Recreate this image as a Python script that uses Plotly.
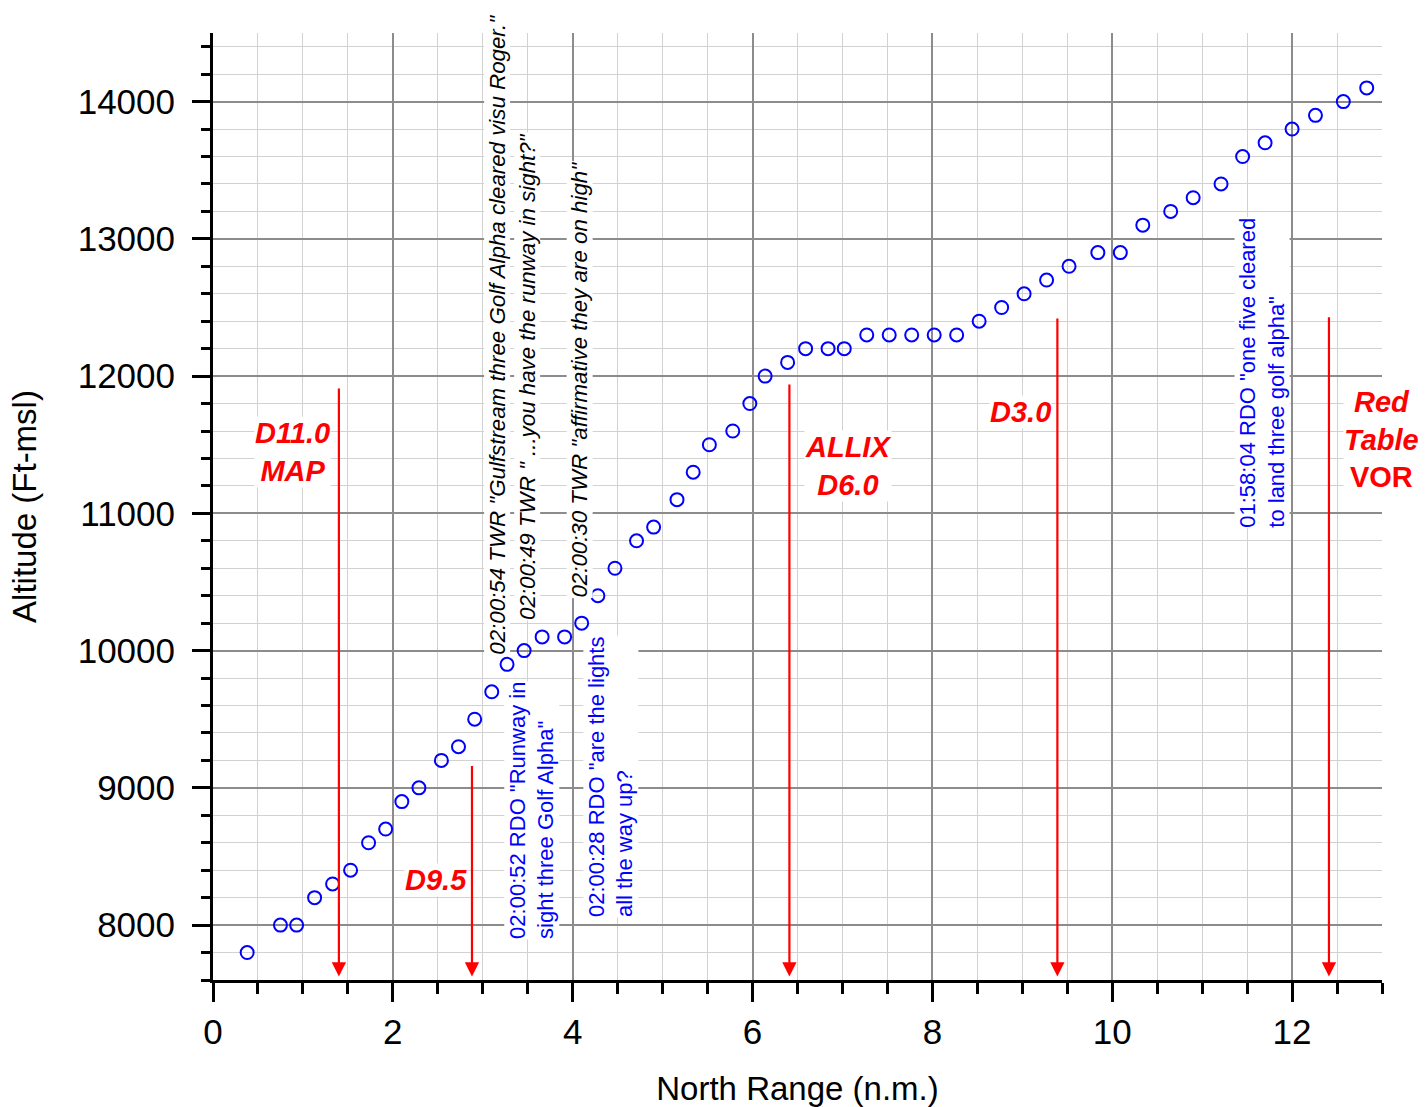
import plotly.graph_objects as go

# ---- data ----
north_range = [0.38, 0.75, 0.93, 1.13, 1.33, 1.53, 1.73, 1.92, 2.10, 2.29,
               2.54, 2.73, 2.91, 3.10, 3.27, 3.46, 3.66, 3.91, 4.10, 4.28,
               4.47, 4.71, 4.90, 5.16, 5.34, 5.52, 5.78, 5.97, 6.14, 6.39,
               6.59, 6.84, 7.02, 7.27, 7.52, 7.77, 8.02, 8.27, 8.52, 8.77,
               9.02, 9.27, 9.52, 9.84, 10.09, 10.34, 10.65, 10.90, 11.21, 11.45,
               11.70, 12.00, 12.26, 12.57, 12.83]
altitude = [7800, 8000, 8000, 8200, 8300, 8400, 8600, 8700, 8900, 9000,
            9200, 9300, 9500, 9700, 9900, 10000, 10100, 10100, 10200, 10400,
            10600, 10800, 10900, 11100, 11300, 11500, 11600, 11800, 12000, 12100,
            12200, 12200, 12200, 12300, 12300, 12300, 12300, 12300, 12400, 12500,
            12600, 12700, 12800, 12900, 12900, 13100, 13200, 13300, 13400, 13600,
            13700, 13800, 13900, 14000, 14100]

# fix arrows (x, top altitude); tips end just above the axis
arrow_x = [1.40, 2.88, 6.41, 9.39, 12.41]
arrow_top = [11920, 9170, 11950, 12430, 12440]
arrow_tip = 7625

# red fix labels
fix_text = ["<i>D11.0</i><br><i>MAP</i>", "<i>D9.5</i>", "<i>ALLIX</i><br><i>D6.0</i>",
            "<i>D3.0</i>", "<i>Red</i><br><i>Table</i><br>VOR"]
fix_x = [0.88, 2.48, 7.06, 8.98, 12.99]
fix_y = [11447, 8328, 11342, 11738, 11539]

# black TWR transmissions (rotated, bottom anchored)
twr_text = ['02:00:54 TWR "Gulfstream three Golf Alpha cleared visu Roger."',
            '02:00:49 TWR " ...you have the runway in sight?"',
            '02:00:30 TWR "affirmative they are on high"']
twr_x = [3.16, 3.49, 4.08]
twr_y = [9964, 10218, 10378]

# blue RDO transmissions (rotated, bottom anchored)
rdo_text = ['02:00:52 RDO "Runway in<br>sight three Golf Alpha"',
            '02:00:28 RDO "are the lights<br>all the way up?',
            '01:58:04 RDO "one five cleared<br>to land three golf alpha"']
rdo_x = [3.54, 4.42, 11.67]
rdo_y = [7891, 8051, 10891]

x_ticks = [0, 2, 4, 6, 8, 10, 12]
y_ticks = [8000, 9000, 10000, 11000, 12000, 13000, 14000]

FONT = "Arial, Liberation Sans, sans-serif"

fig = go.Figure()
fig.add_trace(go.Scatter(
    x=north_range, y=altitude, mode="markers",
    marker=dict(symbol="circle-open", size=13, color="#0000ff",
                line=dict(width=2, color="#0000ff")),
    showlegend=False, cliponaxis=False))

annotations = []
for xa, yt in zip(arrow_x, arrow_top):
    annotations.append(dict(
        x=xa, y=arrow_tip, ax=xa, ay=yt, xref="x", yref="y", axref="x", ayref="y",
        text="", showarrow=True, arrowhead=2, arrowsize=1.3, arrowwidth=2.2,
        arrowcolor="#ff0000", standoff=0, startstandoff=0))

for t, xa, ya in zip(fix_text, fix_x, fix_y):
    annotations.append(dict(
        x=xa, y=ya, xref="x", yref="y", text=t, showarrow=False,
        font=dict(family=FONT, size=29, color="#ff0000", weight="bold"),
        bgcolor="white", align="center", xanchor="center", yanchor="middle",
        borderpad=0))

for t, xa, ya in zip(twr_text, twr_x, twr_y):
    annotations.append(dict(
        x=xa, y=ya, xref="x", yref="y", text="<i>" + t + "</i>", showarrow=False,
        textangle=-90, font=dict(family=FONT, size=22.3, color="black"),
        bgcolor="white", align="left", xanchor="center", yanchor="bottom",
        borderpad=0))

for t, xa, ya in zip(rdo_text, rdo_x, rdo_y):
    annotations.append(dict(
        x=xa, y=ya, xref="x", yref="y", text=t, showarrow=False,
        textangle=-90, font=dict(family=FONT, size=22, color="#0000ff"),
        bgcolor="white", align="left", xanchor="center", yanchor="bottom",
        borderpad=0))

fig.update_layout(
    width=1426, height=1107,
    margin=dict(l=213, r=44, t=33, b=127),
    paper_bgcolor="white", plot_bgcolor="white",
    font=dict(family=FONT, color="black"),
    annotations=annotations,
    xaxis=dict(
        range=[0, 13], tickvals=x_ticks, ticktext=[str(v) for v in x_ticks],
        automargin=False,
        showline=True, linecolor="black", linewidth=3,
        ticks="outside", ticklen=19, tickwidth=3, tickcolor="black",
        tickfont=dict(size=35), ticklabelstandoff=0,
        showgrid=True, gridcolor="#8c8c8c", gridwidth=1.5,
        minor=dict(dtick=0.5, tick0=0, ticks="outside", ticklen=11, tickwidth=3,
                   tickcolor="black", showgrid=True, gridcolor="#d2d2d2", gridwidth=1.2),
        title=dict(text="North Range (n.m.)", font=dict(size=33), standoff=30),
        zeroline=False),
    yaxis=dict(
        range=[7600, 14500], tickvals=y_ticks, ticktext=[str(v) for v in y_ticks],
        automargin=False,
        showline=True, linecolor="black", linewidth=3,
        ticks="outside", ticklen=18, tickwidth=3, tickcolor="black",
        tickfont=dict(size=35), ticklabelstandoff=10,
        showgrid=True, gridcolor="#8c8c8c", gridwidth=1.5,
        minor=dict(dtick=200, tick0=0, ticks="outside", ticklen=9, tickwidth=3,
                   tickcolor="black", showgrid=True, gridcolor="#d2d2d2", gridwidth=1.2),
        title=dict(text="Altitude (Ft-msl)", font=dict(size=33), standoff=32),
        zeroline=False),
)

fig.write_html("out.html")
